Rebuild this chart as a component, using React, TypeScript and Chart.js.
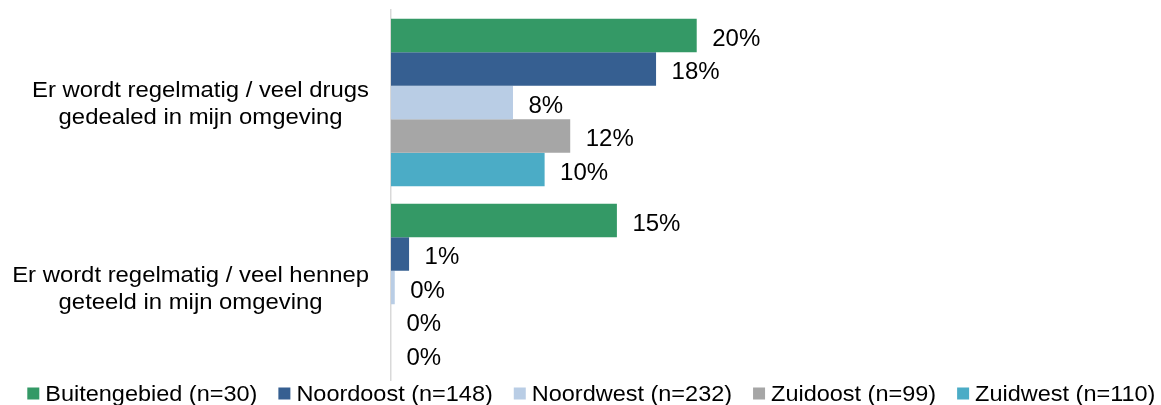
import React, { useEffect, useRef } from 'react';
import { Chart, registerables } from 'chart.js';

Chart.register(...registerables);

// ---- Data ----
const categories: string[][] = [
  ['Er wordt regelmatig / veel drugs', 'gedealed in mijn omgeving'],
  ['Er wordt regelmatig / veel hennep', 'geteeld in mijn omgeving'],
];
const seriesNames = [
  'Buitengebied (n=30)',
  'Noordoost (n=148)',
  'Noordwest (n=232)',
  'Zuidoost (n=99)',
  'Zuidwest (n=110)',
];
const buitengebied = [20.3, 15.0];
const noordoost = [17.6, 1.2];
const noordwest = [8.1, 0.25];
const zuidoost = [11.9, 0];
const zuidwest = [10.2, 0];
const seriesColors = ['#349966', '#365F91', '#B9CDE5', '#A6A6A6', '#4BACC6'];

const FONT = '"Liberation Sans", Arial, sans-serif';
const AXIS_SX = 1.11;
const LEGEND_SX = 1.067;

const textPlugin = {
  id: 'customText',
  afterDraw(chart: any) {
    const ctx = chart.ctx as CanvasRenderingContext2D;
    const area = chart.chartArea;
    const yScale = chart.scales.y;

    // value labels
    ctx.save();
    ctx.font = `24px ${FONT}`;
    ctx.fillStyle = '#000';
    ctx.textAlign = 'left';
    ctx.textBaseline = 'middle';
    chart.data.datasets.forEach((ds: any, di: number) => {
      const meta = chart.getDatasetMeta(di);
      meta.data.forEach((el: any, i: number) => {
        const v = ds.data[i] as number;
        ctx.fillText(`${Math.round(v)}%`, el.x + 15.5, el.y + 3.5);
      });
    });
    ctx.restore();

    // category labels (right-aligned block, centered lines)
    ctx.save();
    ctx.font = `21.5px ${FONT}`;
    ctx.fillStyle = '#000';
    ctx.textAlign = 'center';
    ctx.textBaseline = 'alphabetic';
    const right = area.left - 22;
    categories.forEach((lines, i) => {
      const cy = yScale.getPixelForValue(i);
      const maxW = Math.max(...lines.map((l) => ctx.measureText(l).width * AXIS_SX));
      const cx = right - maxW / 2;
      lines.forEach((l, j) => {
        ctx.save();
        ctx.translate(cx, cy - 5.5 + 27 * j);
        ctx.scale(AXIS_SX, 1);
        ctx.fillText(l, 0, 0);
        ctx.restore();
      });
    });
    ctx.restore();

    // legend
    ctx.save();
    ctx.font = `22px ${FONT}`;
    ctx.textAlign = 'left';
    ctx.textBaseline = 'alphabetic';
    let x = 27.3;
    const boxTop = 387.5;
    const baseline = 400.5;
    chart.data.datasets.forEach((ds: any) => {
      ctx.fillStyle = ds.backgroundColor;
      ctx.fillRect(x, boxTop, 12, 12);
      x += 12 + 6;
      const w = ctx.measureText(ds.label).width * LEGEND_SX;
      ctx.fillStyle = '#000';
      ctx.save();
      ctx.translate(x, baseline);
      ctx.scale(LEGEND_SX, 1);
      ctx.fillText(ds.label, 0, 0);
      ctx.restore();
      x += w + 21;
    });
    ctx.restore();
  },
};

export default function App() {
  const canvasRef = useRef<HTMLCanvasElement | null>(null);

  useEffect(() => {
    document.body.style.margin = '0';
    const canvas = canvasRef.current;
    if (!canvas) return;
    const values = [buitengebied, noordoost, noordwest, zuidoost, zuidwest];
    const chart = new Chart(canvas, {
      type: 'bar',
      data: {
        labels: categories.map((c) => c.join(' ')),
        datasets: seriesNames.map((name, i) => ({
          label: name,
          data: values[i],
          backgroundColor: seriesColors[i],
          borderWidth: 0,
          barPercentage: 1,
          categoryPercentage: 0.905,
        })),
      },
      options: {
        indexAxis: 'y',
        responsive: false,
        animation: false,
        devicePixelRatio: 1,
        layout: {
          padding: { left: 391, right: 167.6, top: 10, bottom: 25 },
        },
        scales: {
          x: {
            display: false,
            min: 0,
            max: 40,
          },
          y: {
            display: true,
            grid: { display: false, drawTicks: false },
            ticks: { display: false },
            border: { display: true, color: '#D9D9D9', width: 1.5 },
          },
        },
        plugins: {
          legend: { display: false },
          tooltip: { enabled: false },
        },
      },
      plugins: [textPlugin],
    });
    return () => chart.destroy();
  }, []);

  return (
    <div style={{ width: 1161, height: 405 }}>
      <canvas ref={canvasRef} width={1161} height={405} style={{ display: 'block' }} />
    </div>
  );
}
